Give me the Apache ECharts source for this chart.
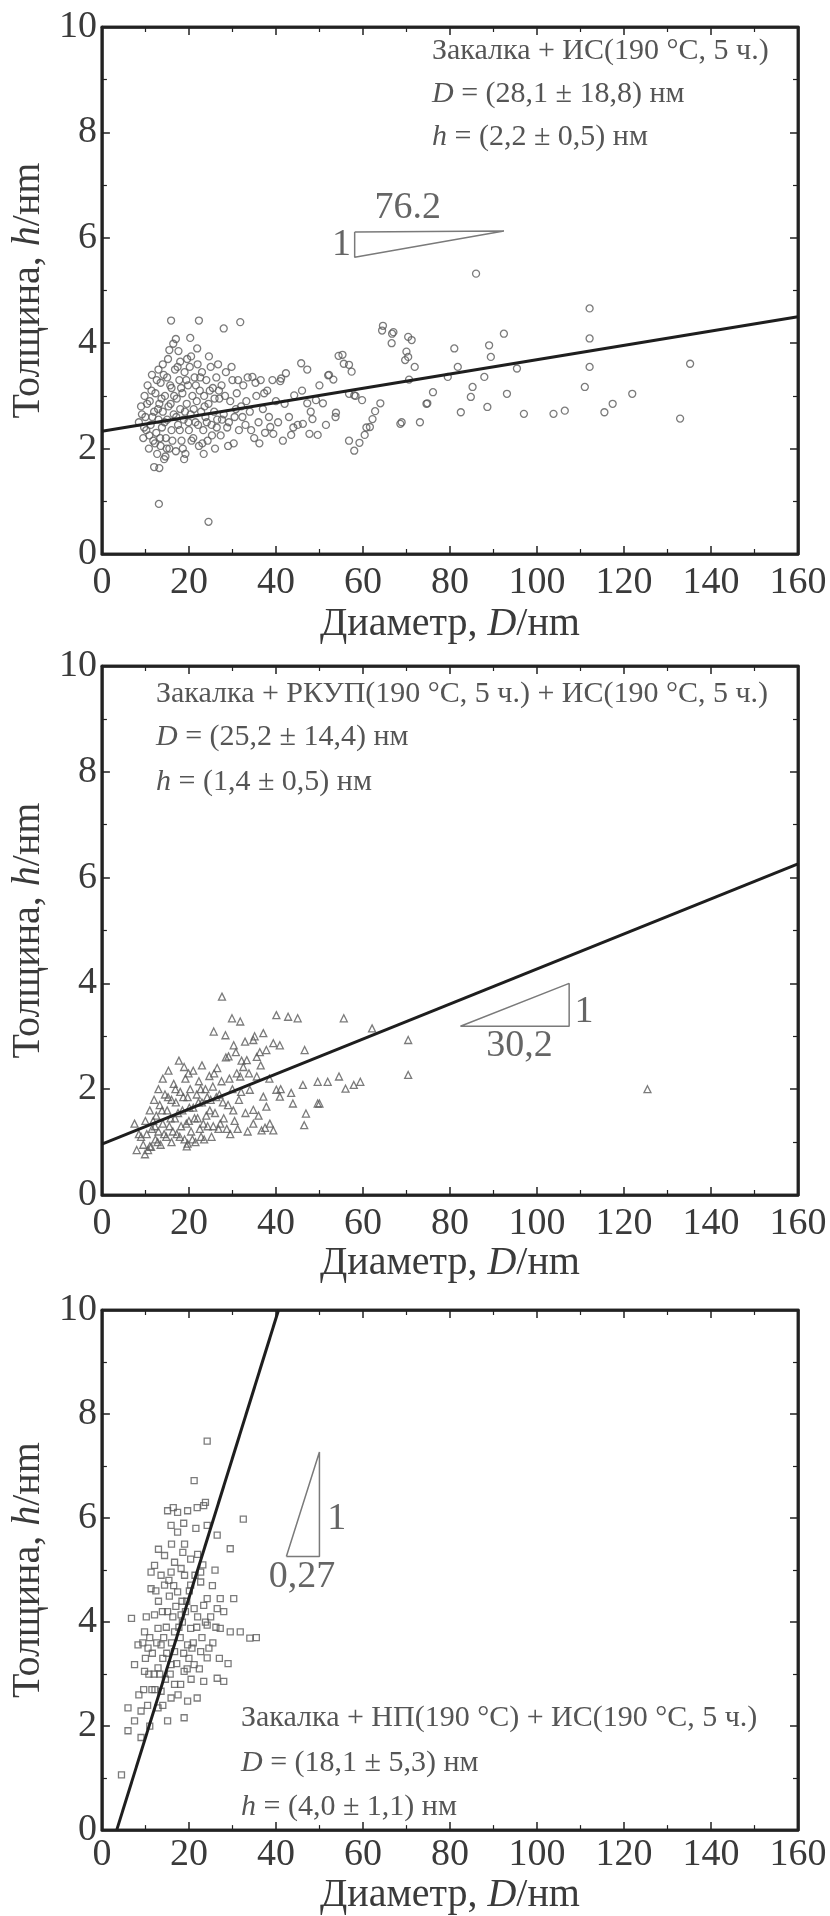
<!DOCTYPE html>
<html><head><meta charset="utf-8">
<script src="https://cdn.jsdelivr.net/npm/echarts@6/dist/echarts.min.js"></script>
<style>html,body{margin:0;padding:0;background:#fff;overflow:hidden}#c{width:830px;height:1916px}</style>
</head><body><div id="c"></div>
<script>
// ---- tick labels ----
const xTickLabels = [0, 20, 40, 60, 80, 100, 120, 140, 160];
const yTickLabels = [0, 2, 4, 6, 8, 10];

// ---- panel 1: Закалка + ИС (circles) ----
const pointsP1 = [[8.5,2.5],[9,2.8],[9.5,2.2],[9.8,3.0],[10,2.6],[10.2,2.35],[10.5,3.2],[10.8,2.0],[11,2.9],[11.2,2.45],[11.5,3.4],[11.8,2.15],[12,2.7],[12,1.65],[12.3,3.05],[12.5,2.3],[12.7,1.9],[13,3.5],[13,2.55],[13.2,2.85],[13.5,2.05],[13.5,3.25],[13.1,0.95],[13.2,1.63],[13.8,2.4],[14,3.6],[14,2.7],[14.3,1.8],[14.5,3.0],[14.7,2.2],[15,3.35],[15,2.55],[15.2,3.7],[15.5,2.0],[15.5,3.87],[15.8,2.85],[15.9,4.43],[16,2.35],[16,3.15],[16.4,3.99],[16.5,2.65],[16.8,3.5],[17,4.08],[17,1.95],[17.2,2.95],[17.5,2.45],[17.8,3.3],[18,2.75],[18,3.65],[18.3,2.15],[18.5,3.05],[18.8,2.55],[19,3.45],[19.2,1.9],[19.5,2.85],[19.8,3.2],[20,2.35],[20.3,4.1],[20.4,2.65],[20.5,3.75],[20.8,3.0],[21,2.2],[21.3,3.35],[21.5,2.5],[21.8,2.9],[22,3.6],[22.3,4.43],[22.3,2.05],[22.5,3.1],[22.8,2.7],[23,3.45],[23.3,2.35],[23.5,3.0],[23.8,2.6],[24,3.3],[24.5,0.61],[24.3,2.15],[24.5,2.85],[25,3.55],[25.2,2.45],[25.5,3.15],[25.8,2.7],[26,2.0],[26.3,3.35],[26.5,2.55],[27,2.95],[27.3,2.25],[27.5,3.2],[28,4.28],[28,2.65],[28.5,3.45],[28.8,2.4],[29,2.05],[29.5,2.9],[30,3.3],[30.3,2.1],[30.5,2.6],[31,3.05],[31.5,2.35],[31.8,4.4],[32,2.8],[32.5,3.2],[33,2.45],[33.5,3.35],[34,2.7],[34.6,3.36],[35,2.2],[35.5,3.0],[36,2.5],[36.5,3.3],[37,2.75],[37.5,2.3],[38,3.1],[38.7,2.41],[39.4,2.28],[40,2.9],[41,3.28],[41.2,3.33],[41.6,2.15],[42.3,3.43],[43,2.6],[43.5,2.26],[44.2,3.01],[45,2.45],[45.8,3.62],[46.2,2.47],[47.2,2.86],[47.2,3.5],[47.7,2.28],[48.4,2.56],[49.2,2.92],[49.6,2.26],[50.8,2.86],[52,3.39],[52.2,3.4],[53.2,3.31],[53.7,2.6],[53.8,2.68],[54.4,3.76],[55.3,3.78],[55.6,3.61],[56.8,3.59],[56.8,3.04],[56.8,2.15],[57.4,3.46],[58,3.01],[58.3,3.0],[58,1.96],[59.2,2.11],[59.8,2.92],[60.4,2.26],[60.8,2.4],[61.6,2.41],[62.2,2.56],[62.8,2.71],[64,2.86],[64.4,4.24],[64.6,4.33],[66.6,4.0],[66.7,4.18],[67,4.21],[68.6,2.47],[68.9,2.5],[69.7,3.68],[70,3.84],[70.4,4.12],[70.4,3.74],[70.6,3.31],[71.2,4.06],[71.9,3.55],[73.1,2.5],[74.6,2.85],[74.8,2.86],[76.1,3.07],[79.5,3.36],[81,3.9],[81.8,3.55],[82.5,2.69],[84.8,2.98],[85.2,3.17],[86,5.32],[87.9,3.36],[88.6,2.79],[89,3.96],[89.4,3.74],[92.4,4.18],[93.1,3.04],[95.4,3.52],[97,2.66],[103.8,2.66],[106.4,2.72],[111,3.17],[112.1,3.55],[112.1,4.09],[112.1,4.66],[115.5,2.69],[117.4,2.85],[121.9,3.04],[132.9,2.57],[135.2,3.61],
  [9.2,2.65],[9.7,2.4],[10.4,2.85],[10.9,2.25],[11.4,3.1],[11.6,2.6],[12.2,2.1],[12.6,3.3],[12.9,2.75],[13.4,2.2],[13.7,2.95],[14.2,3.4],[14.4,2.5],[14.9,2.0],[15.3,2.8],[15.7,3.2],[16.2,2.15],[16.6,3.0],[17.1,2.6],[17.4,3.55],[17.9,2.35],[18.2,3.15],[18.6,2.0],[19.1,2.7],[19.4,3.3],[19.9,2.5],[20.2,3.55],[20.6,2.15],[21.1,2.75],[21.6,3.2],[22.1,2.45],[22.6,3.35],[23.1,2.1],[23.6,2.8],[24.1,2.5],[24.8,3.1],[25.3,2.25],[25.9,2.95],[26.4,2.4],[26.9,3.1],[27.6,2.55],[28.3,3.0],[29.2,2.5],[29.8,3.55],[30.8,2.75],[31.3,3.3],[32.3,2.6],[33.2,2.9],[34.3,2.35],[35.3,3.25],[36.2,2.1],[37.3,3.05],[38.4,2.6],[39.2,3.3],[40.5,2.5],[42,2.85],[44,2.4],[46,3.1],[48,2.7],[50,3.2],[51.5,2.45],[17.6,3.85],[19.6,3.7],[21.9,3.9],[24.6,3.75],[26.7,3.6],[14.6,1.85],[18.9,1.8],[23.4,1.9]];
const fitP1 = [[0, 2.33], [160, 4.5]];
const slopeP1 = [[58.1, 6.11], [92.4, 6.13], [58.1, 5.63], [58.1, 6.11]];
const slopeLabelsP1 = [[70.3, 6.56, '76.2'], [55.1, 5.86, '1']];
const notesP1 = ['Закалка + ИС(190 °С, 5 ч.)', '{i|D} = (28,1 ± 18,8) нм', '{i|h} = (2,2 ± 0,5) нм'];

// ---- panel 2: Закалка + РКУП + ИС (triangles) ----
const pointsP2 = [[7.5,1.35],[8,0.85],[8.5,1.15],[9,1.1],[9.5,0.95],[9.9,0.77],[10,1.4],[10.6,0.85],[11,0.92],[11,1.6],[11.3,0.91],[11.5,1.25],[12,1.8],[12.3,1.05],[12.5,1.5],[13,2.0],[13,1.2],[13.3,1.7],[13.5,0.95],[14,1.35],[14,2.2],[14.5,1.9],[14.8,1.1],[15,1.6],[15.3,2.35],[15.5,1.3],[16,1.8],[16,1.0],[16.5,2.1],[16.8,1.45],[17,1.75],[17.2,1.15],[17.7,2.54],[18,1.95],[18.2,1.3],[18.5,1.6],[18.9,2.42],[19,1.05],[19.2,2.2],[19.5,0.92],[19.7,1.85],[19.7,0.97],[20,1.4],[20.3,2.0],[20.5,1.2],[21,1.65],[21,2.35],[21.5,1.0],[21.8,1.9],[22,1.45],[22.3,2.15],[22.5,1.25],[23,1.75],[23,2.45],[23.5,1.05],[23.8,2.0],[24,1.5],[24.3,1.3],[24.7,2.25],[25,1.8],[25.2,1.1],[25.7,3.09],[25.5,2.05],[26,1.55],[26.5,2.4],[26.8,1.25],[27,1.9],[27.5,2.15],[27.6,3.75],[28,1.45],[28.4,3.02],[28.5,2.6],[29,1.7],[29.1,2.62],[29.5,1.15],[29.9,3.34],[30,2.0],[30.3,2.83],[30.5,1.4],[31,2.3],[31.5,1.8],[31.8,3.28],[31.8,2.24],[32.1,2.54],[32.5,2.42],[32.9,2.9],[33,1.55],[33.3,2.55],[34,1.99],[34.8,2.93],[34.8,1.35],[34.8,1.61],[35.1,3.0],[35.6,2.61],[35.6,2.24],[36.3,2.7],[36.7,1.22],[37.1,3.06],[37.1,1.86],[37.5,1.27],[37.8,2.74],[37.8,1.67],[38.6,1.35],[39.4,2.87],[39.4,1.22],[40.1,3.4],[40.1,1.99],[40.9,2.83],[40.9,1.86],[41.1,2.0],[42.8,3.37],[43.5,1.93],[43.9,1.73],[45,3.34],[46.2,2.08],[46.5,1.32],[46.6,2.74],[46.9,1.54],[49.6,2.14],[49.6,1.73],[50,1.73],[51.9,2.14],[54.5,2.24],[55.6,3.34],[56,2.01],[57.9,2.08],[59.4,2.14],[62.1,3.15],[70.4,2.93],[70.4,2.27],[125.4,2.0],
  [10.3,1.15],[11.8,1.4],[12.8,1.0],[13.8,1.6],[14.3,1.15],[15.2,1.85],[15.8,1.45],[16.3,1.2],[17.5,1.55],[17.9,1.1],[18.7,1.85],[19.4,1.35],[20.1,1.65],[20.8,1.05],[21.3,1.45],[22.2,1.75],[22.8,1.1],[23.3,1.35],[24.2,1.85],[24.8,1.6],[25.6,1.3],[26.3,1.85],[27.2,1.35],[27.8,1.75],[28.7,1.25],[29.3,2.2],[30.2,1.6],[31.2,1.25],[32,1.95],[33.5,1.2],[12.2,1.3],[16.9,2.0],[19.9,2.3],[22.7,2.0],[25.8,2.3],[30.8,2.7],[33.8,2.3],[36.5,2.45],[38.5,2.2],[36,1.5]];
const fitP2 = [[0, 0.96], [160, 6.26]];
const slopeP2 = [[82.4, 3.19], [107.4, 3.19], [107.4, 4.0], [82.4, 3.19]];
const slopeLabelsP2 = [[96, 2.81, '30,2'], [110.8, 3.46, '1']];
const notesP2 = ['Закалка + РКУП(190 °С, 5 ч.) + ИС(190 °С, 5 ч.)', '{i|D} = (25,2 ± 14,4) нм', '{i|h} = (1,4 ± 0,5) нм'];

// ---- panel 3: Закалка + НП + ИС (squares) ----
const pointsP3 = [[4.5,1.06],[6,1.91],[6,2.35],[6.8,4.07],[7.5,2.1],[7.5,3.18],[8.3,3.56],[9,1.78],[9,2.29],[9.8,3.05],[9.8,3.81],[10.6,3.5],[11.3,4.64],[11.3,4.96],[12.1,4.14],[12.1,5.09],[12.9,2.35],[12.9,3.12],[12.9,3.88],[13.6,2.67],[13.6,3.56],[13.6,4.9],[14.4,4.71],[14.4,5.28],[15.1,2.1],[15.1,4.2],[15.1,6.14],[15.9,2.54],[15.9,3.18],[15.9,4.96],[15.9,5.86],[16.7,2.8],[16.7,3.43],[16.7,3.81],[16.7,5.15],[17.4,4.58],[17.4,5.73],[17.4,6.11],[18.2,4.14],[18.2,5.03],[18.6,5.34],[18.9,2.16],[18.9,3.05],[19.7,2.48],[19.7,3.56],[19.7,6.14],[20.4,3.88],[20.4,4.71],[20.4,5.21],[21.2,3.18],[21.2,4.26],[21.2,6.72],[21.6,5.8],[21.9,2.54],[21.9,6.2],[22.7,3.43],[22.7,4.77],[22.7,4.96],[23.4,2.86],[23.4,4.32],[23.4,6.24],[24.2,3.31],[24.2,3.94],[24.2,4.45],[24.2,5.86],[24.2,7.48],[26.5,2.92],[26.5,4.26],[26.5,5.67],[27.2,3.88],[27.2,4.45],[28,2.86],[29.5,3.81],[29.5,5.41],[30.3,4.45],[31.8,3.81],[32.5,5.98],[34,3.69],[35.5,3.7],[10,3.3],[11,3.7],[12,3.0],[13,4.4],[14,3.3],[14.8,3.9],[15.5,4.5],[16,3.6],[17,4.3],[18,3.7],[18.5,4.0],[19,4.9],[19.5,4.4],[20,3.3],[21,3.6],[22,4.1],[23,3.7],[25,4.1],[25.5,3.6],[26,5.0],[28,4.2],[11.5,2.7],[14,2.4],[17.5,2.6],[20.5,2.9],[8.5,2.6],[10.5,2.4],[13,5.4],[16,5.5],[19,5.5],[22,5.3],[27,3.3],[29,3.2],
  [9.4,3.6],[10.2,4.1],[10.8,3.0],[11.6,3.4],[12.4,4.6],[12.6,3.6],[13.3,3.0],[13.9,4.2],[14.2,3.7],[14.9,3.4],[15.4,4.8],[15.7,3.0],[16.3,4.1],[16.5,4.7],[17.2,3.2],[17.7,3.9],[18.4,4.4],[18.8,3.4],[19.2,4.2],[19.6,3.1],[20.1,4.6],[20.7,3.5],[21.4,4.9],[21.8,3.9],[22.4,3.1],[23.2,5.1],[23.8,4.0],[24.6,3.5],[25.4,4.7],[26.2,3.9],[12.2,2.7],[14.6,2.9],[18.1,2.8],[9.6,2.7],[11,2.0],[16.4,6.2],[18.8,5.9],[23.8,6.3]];
const fitP3 = [[3.4, 0], [40.6, 10]];
const slopeP3 = [[42.4, 5.26], [50, 7.27], [50, 5.26], [42.4, 5.26]];
const slopeLabelsP3 = [[54, 5.98, '1'], [46, 4.86, '0,27']];
const notesP3 = ['Закалка + НП(190 °С) + ИС(190 °С, 5 ч.)', '{i|D} = (18,1 ± 5,3) нм', '{i|h} = (4,0 ± 1,1) нм'];

// ---- layout / style ----
const FONT = '"Liberation Serif", "DejaVu Serif", serif';
const FRAME = '#222222';
const panels = [
  { pts: pointsP1, fit: fitP1, tri: slopeP1, triLab: slopeLabelsP1, notes: notesP1, symbol: 'circle', symSize: 7,
    grid: { left: 94, top: 27, width: 704, height: 527 }, labelMargin: 10, nameGap: 50,
    noteLeft: 432, noteTops: [36, 79, 122] },
  { pts: pointsP2, fit: fitP2, tri: slopeP2, triLab: slopeLabelsP2, notes: notesP2, symbol: 'triangle', symSize: 7,
    grid: { left: 94, top: 666, width: 704, height: 529 }, labelMargin: 10, nameGap: 46,
    noteLeft: 156, noteTops: [679, 722, 767] },
  { pts: pointsP3, fit: fitP3, tri: slopeP3, triLab: slopeLabelsP3, notes: notesP3, symbol: 'rect', symSize: 6,
    grid: { left: 94, top: 1310, width: 704, height: 523 }, labelMargin: 6, nameGap: 38,
    noteLeft: 241, noteTops: [1703, 1748, 1792] }
];

function nameStyle() {
  return { fontFamily: FONT, fontSize: 40, color: '#3a3a3a',
    rich: { i: { fontFamily: FONT, fontSize: 40, fontStyle: 'italic', color: '#3a3a3a' } } };
}
function makeAxis(kind, gridIndex, position, withLabels, p) {
  const ticks = kind === 'x' ? xTickLabels : yTickLabels;
  const ax = {
    type: 'value', gridIndex: gridIndex, position: position,
    min: ticks[0], max: ticks[ticks.length - 1], interval: ticks[1] - ticks[0],
    splitLine: { show: false },
    axisLine: { show: true, onZero: false, lineStyle: { color: FRAME, width: 2.5 } },
    axisTick: { show: true, inside: true, length: 8, lineStyle: { color: FRAME, width: 1.5 } },
    minorTick: { show: true, splitNumber: 2, length: 5, lineStyle: { color: FRAME, width: 1.2 } },
    axisLabel: withLabels
      ? { show: true, fontFamily: FONT, fontSize: 38, color: '#3a3a3a', margin: kind === 'x' ? p.labelMargin : 5 }
      : { show: false }
  };
  if (withLabels) {
    ax.name = kind === 'x' ? 'Диаметр, {i|D}/нm' : 'Толщина, {i|h}/нm';
    ax.nameLocation = 'middle';
    ax.nameGap = kind === 'x' ? p.nameGap : 40;
    ax.nameTextStyle = nameStyle();
  }
  return ax;
}

// frame corners taken from the axis extents
const x0 = xTickLabels[0], x1 = xTickLabels[xTickLabels.length - 1];
const y0 = yTickLabels[0], y1 = yTickLabels[yTickLabels.length - 1];
const frameCorners = [[x0, y0], [x1, y0], [x1, y1], [x0, y1], [x0, y0]];

const grids = [], xAxes = [], yAxes = [], series = [], graphics = [];
panels.forEach((p, i) => {
  grids.push({ left: p.grid.left, top: p.grid.top, width: p.grid.width, height: p.grid.height,
    show: true, borderColor: FRAME, borderWidth: 2.5 });
  xAxes.push(makeAxis('x', i, 'bottom', true, p));
  xAxes.push(makeAxis('x', i, 'top', false, p));
  yAxes.push(makeAxis('y', i, 'left', true, p));
  yAxes.push(makeAxis('y', i, 'right', false, p));

  const xi = 2 * i, yi = 2 * i;
  series.push({ type: 'line', xAxisIndex: xi + 1, yAxisIndex: yi + 1, data: frameCorners, showSymbol: false, symbol: 'none',
    clip: false, lineStyle: { color: FRAME, width: 2.5 }, silent: true, z: 1 });
  series.push({ type: 'scatter', xAxisIndex: xi, yAxisIndex: yi, data: p.pts, symbol: p.symbol, symbolSize: p.symSize,
    itemStyle: { color: 'rgba(255,255,255,0)', borderColor: '#5a5a5a', borderWidth: 1.3 }, silent: true, z: 2 });
  series.push({ type: 'line', xAxisIndex: xi + 1, yAxisIndex: yi + 1, data: p.fit, showSymbol: false, symbol: 'none',
    lineStyle: { color: '#1e1e1e', width: 3 }, silent: true, z: 3 });
  series.push({ type: 'line', xAxisIndex: xi + 1, yAxisIndex: yi + 1, data: p.tri, showSymbol: false, symbol: 'none',
    lineStyle: { color: '#7a7a7a', width: 1.5 }, silent: true, z: 3 });
  series.push({ type: 'scatter', xAxisIndex: xi, yAxisIndex: yi, data: p.triLab.map(d => [d[0], d[1], d[2]]),
    symbolSize: 0, silent: true, z: 4,
    label: { show: true, position: 'inside', formatter: q => q.data[2], fontFamily: FONT, fontSize: 38, color: '#3f3f3f' } });

  p.notes.forEach((t, k) => {
    graphics.push({ type: 'text', left: p.noteLeft, top: p.noteTops[k], silent: true,
      style: { text: t, fontFamily: FONT, fontSize: 30, fill: '#555',
        rich: { i: { fontFamily: FONT, fontSize: 30, fontStyle: 'italic', fill: '#555', color: '#555' } } } });
  });
});

const chart = echarts.init(document.getElementById('c'), null, { renderer: 'canvas' });
chart.setOption({
  animation: false,
  grid: grids, xAxis: xAxes, yAxis: yAxes, series: series, graphic: graphics
});
</script></body></html>
